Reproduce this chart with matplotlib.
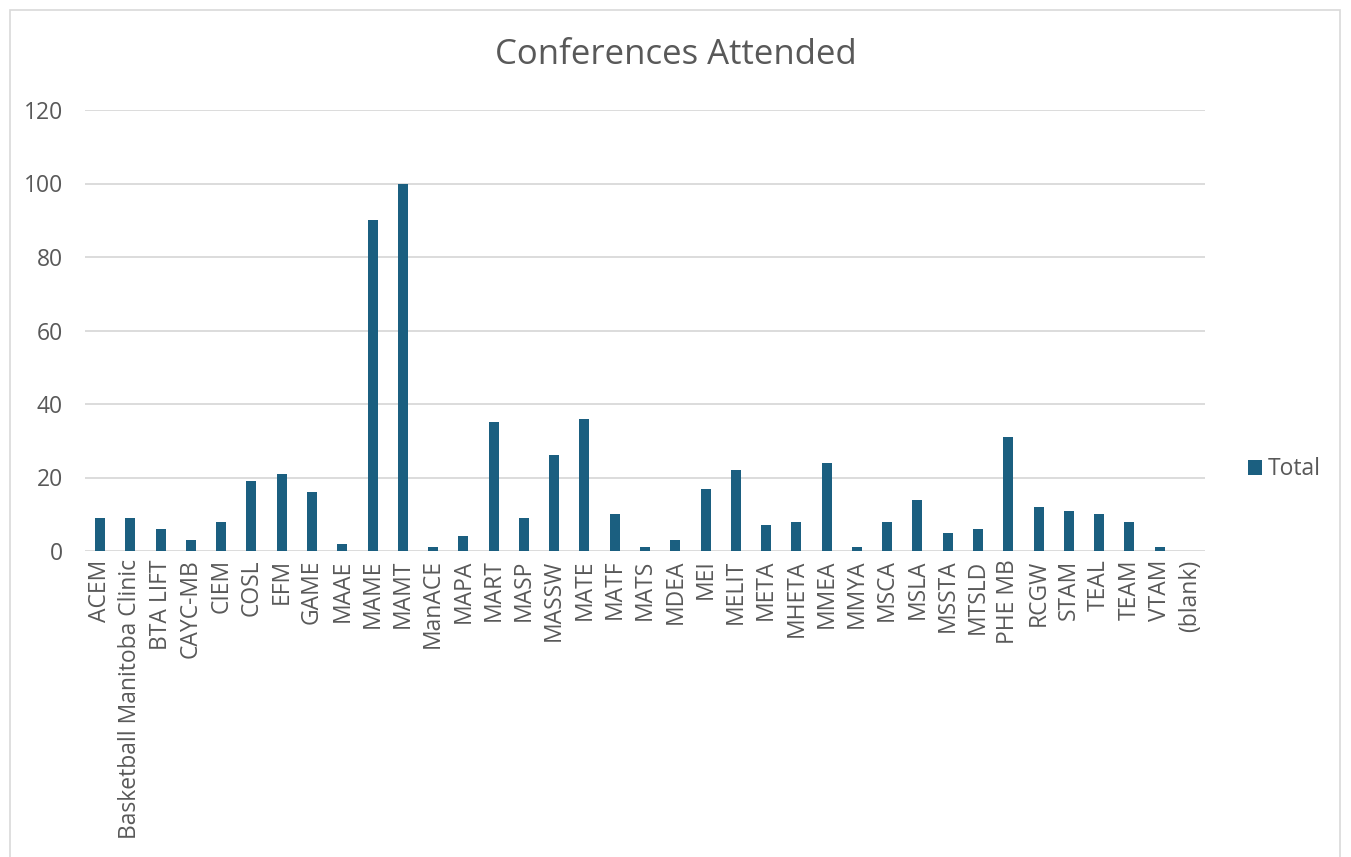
import matplotlib.pyplot as plt
from matplotlib.patches import Rectangle

plt.rcParams['font.family'] = ['Open Sans', 'DejaVu Sans']

categories = ['ACEM', 'Basketball Manitoba Clinic', 'BTA LIFT', 'CAYC-MB', 'CIEM', 'COSL',
              'EFM', 'GAME', 'MAAE', 'MAME', 'MAMT', 'ManACE', 'MAPA', 'MART', 'MASP',
              'MASSW', 'MATE', 'MATF', 'MATS', 'MDEA', 'MEI', 'MELIT', 'META', 'MHETA',
              'MMEA', 'MMYA', 'MSCA', 'MSLA', 'MSSTA', 'MTSLD', 'PHE MB', 'RCGW', 'STAM',
              'TEAL', 'TEAM', 'VTAM', '(blank)']
totals = [9, 9, 6, 3, 8, 19, 21, 16, 2, 90, 100, 1, 4, 35, 9, 26, 36, 10, 1, 3, 17, 22,
          7, 8, 24, 1, 8, 14, 5, 6, 31, 12, 11, 10, 8, 1, 0]
yticks = [0, 20, 40, 60, 80, 100, 120]

bar_color = '#1b5f80'
text_color = '#595959'

fig = plt.figure(figsize=(13.51, 8.57), dpi=100)
ax = fig.add_axes([85 / 1351, 1 - 551 / 857, 1120 / 1351, 441 / 857])

x = range(len(categories))
ax.bar(x, totals, width=0.33, color=bar_color, label='Total', zorder=3)

ax.set_xlim(-0.5, len(categories) - 0.5)
ax.set_ylim(0, 120)
ax.set_yticks(yticks)
ax.set_xticks(list(x))
ax.set_xticklabels(categories, rotation=90, fontsize=16.5, color=text_color)
ax.tick_params(axis='y', labelsize=16.5, colors=text_color, length=0, pad=16)
ax.tick_params(axis='x', length=0, pad=6)
ax.grid(axis='y', color='#d9d9d9', linewidth=1.3, zorder=0)
ax.set_axisbelow(True)
for s in ax.spines.values():
    s.set_visible(False)

fig.text(676 / 1351, 1 - 55 / 857, 'Conferences Attended', ha='center', va='center',
         fontsize=25, color=text_color)

ax.legend(loc='center left', bbox_to_anchor=(1.02, 0.185), frameon=False,
          fontsize=16.5, labelcolor=text_color, handlelength=0.6, handleheight=0.6,
          handletextpad=0.25)

# chart border
fig.patches.append(Rectangle((10 / 1351, -0.01), 1330 / 1351, 1 - 10 / 857 + 0.01,
                             transform=fig.transFigure, fill=False,
                             edgecolor='#d9d9d9', linewidth=1.2))

fig.savefig('out.png', dpi=100)
